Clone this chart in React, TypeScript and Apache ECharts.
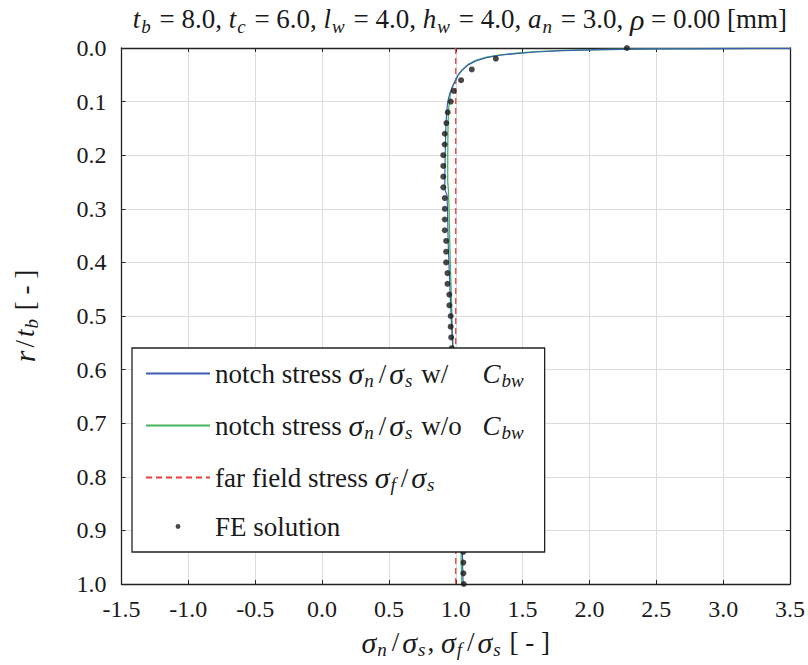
import React, { useEffect, useRef } from "react";
import * as echarts from "echarts";

// ---------- data ----------
const xTickMin = -1.5;
const xTickMax = 3.5;
const xTickStep = 0.5;
const yTickMin = 0.0;
const yTickMax = 1.0;
const yTickStep = 0.1;

// notch stress sigma_n/sigma_s with C_bw : [stress, r/t_b]
const notchStressWithCbw: [number, number][] = [
  [3.6, 0.0005], [3.0, 0.001], [2.5, 0.0018], [2.1, 0.003], [1.8, 0.005],
  [1.6, 0.0075], [1.45, 0.0105], [1.33, 0.0135], [1.23, 0.018], [1.15, 0.024],
  [1.09, 0.032], [1.05, 0.041], [1.02, 0.05], [1.0, 0.06], [0.975, 0.072],
  [0.955, 0.085], [0.94, 0.1], [0.932, 0.12], [0.927, 0.14], [0.924, 0.17],
  [0.921, 0.2], [0.919, 0.23], [0.918, 0.26], [0.92, 0.265], [0.935, 0.275],
  [0.938, 0.3], [0.943, 0.36], [0.95, 0.41], [0.96, 0.47], [0.971, 0.53],
  [0.978, 0.56], [0.99, 0.62], [1.005, 0.68], [1.02, 0.74], [1.03, 0.8],
  [1.04, 0.86], [1.047, 0.92], [1.05, 0.94], [1.052, 0.97], [1.055, 1.0],
];

// notch stress sigma_n/sigma_s without C_bw : [stress, r/t_b]
const notchStressWithoutCbw: [number, number][] = [
  [3.6, 0.0005], [3.0, 0.0009], [2.5, 0.0016], [2.1, 0.0028], [1.8, 0.0045],
  [1.6, 0.0068], [1.45, 0.0098], [1.33, 0.013], [1.23, 0.017], [1.15, 0.023],
  [1.09, 0.031], [1.05, 0.04], [1.02, 0.049], [1.0, 0.058], [0.98, 0.07],
  [0.962, 0.083], [0.952, 0.1], [0.945, 0.12], [0.942, 0.15], [0.94, 0.2],
  [0.94, 0.25], [0.945, 0.265], [0.95, 0.3], [0.955, 0.36], [0.96, 0.41],
  [0.968, 0.47], [0.975, 0.53], [0.98, 0.56], [0.99, 0.62], [1.0, 0.68],
  [1.01, 0.74], [1.02, 0.8], [1.03, 0.86], [1.037, 0.92], [1.04, 0.94],
  [1.042, 0.97], [1.045, 1.0],
];

// far field stress sigma_f/sigma_s
const farFieldStress: [number, number][] = [
  [1.0, 0.0], [1.0, 1.0],
];

// FE solution
const feRadius: number[] = [
  0.0, 0.02, 0.04, 0.06, 0.08, 0.1, 0.12, 0.14, 0.16, 0.18,
  0.2, 0.22, 0.24, 0.26, 0.28, 0.3, 0.32, 0.34, 0.36, 0.38,
  0.4, 0.42, 0.44, 0.46, 0.48, 0.5, 0.52, 0.54, 0.56, 0.58,
  0.6, 0.62, 0.64, 0.66, 0.68, 0.7, 0.72, 0.74, 0.76, 0.78,
  0.8, 0.82, 0.84, 0.86, 0.88, 0.9, 0.92, 0.94, 0.96, 0.98,
  1.0,
];
const feStress: number[] = [
  2.28, 1.3, 1.12, 1.04, 0.985, 0.963, 0.94, 0.93, 0.918, 0.917,
  0.907, 0.907, 0.907, 0.907, 0.918, 0.918, 0.918, 0.918, 0.928, 0.928,
  0.928, 0.938, 0.938, 0.952, 0.952, 0.962, 0.962, 0.966, 0.97, 0.974,
  0.979, 0.985, 0.99, 0.996, 1.0, 1.006, 1.012, 1.017, 1.022, 1.027,
  1.032, 1.036, 1.041, 1.045, 1.049, 1.052, 1.055, 1.057, 1.057, 1.057,
  1.06,
];

const seriesNames = [
  "notch stress σn/σs w/ Cbw",
  "notch stress σn/σs w/o Cbw",
  "far field stress σf/σs",
  "FE solution",
];

// ---------- styling ----------
const FONT = "Liberation Serif";
const TXT = "#1a1a1a";
const FS = 27;
const LH = 34;
const TICK_FS = 24;

const base = { fontFamily: FONT, color: TXT, fontWeight: "normal" as const };
const rich = {
  n: { ...base, fontSize: FS, lineHeight: LH },
  i: { ...base, fontSize: FS, fontStyle: "italic", lineHeight: LH },
  m: { ...base, fontSize: 30, fontStyle: "italic", lineHeight: LH },
  sl: { ...base, fontSize: FS, lineHeight: LH, padding: [0, 3, 0, 3] },
  s: { ...base, fontSize: 19, fontStyle: "italic", lineHeight: 22, padding: [14, 2, 0, 1] },
  g: { ...base, fontSize: FS, lineHeight: LH, width: 68, align: "left" },
};

const legendRich: Record<string, string> = {
  [seriesNames[0]]: "{n|notch stress }{m|σ}{s|n}{sl|/}{m|σ}{s|s}{g| w/}{i|C}{s|bw}",
  [seriesNames[1]]: "{n|notch stress }{m|σ}{s|n}{sl|/}{m|σ}{s|s}{g| w/o}{i|C}{s|bw}",
  [seriesNames[2]]: "{n|far field stress }{m|σ}{s|f}{sl|/}{m|σ}{s|s}",
  [seriesNames[3]]: "{n|FE solution}",
};

const titleText =
  "{i|t}{s|b}{n| = 8.0, }{i|t}{s|c}{n| = 6.0, }{i|l}{s|w}{n| = 4.0, }{i|h}{s|w}{n| = 4.0, }{i|a}{s|n}{n| = 3.0, }{m|ρ}{n| = 0.00 [mm]}";
const xName = "{m|σ}{s|n}{sl|/}{m|σ}{s|s}{n|, }{m|σ}{s|f}{sl|/}{m|σ}{s|s}{n| [ - ]}";
const yName = "{m|r}{sl|/}{i|t}{s|b}{n| [ - ]}";

const BLUE = "#3a5fb0";
const GREEN = "#46b45a";
const RED = "#ee3b3b";

export default function App() {
  const ref = useRef<HTMLDivElement>(null);

  useEffect(() => {
    if (!ref.current) return;
    const chart = echarts.init(ref.current, undefined, { renderer: "svg" });

    const axisLine = { show: true, onZero: false, lineStyle: { color: "#222", width: 1.3 } };
    const axisTick = { show: true, inside: true, length: 4, lineStyle: { color: "#222", width: 1 } };
    const labelStyle = {
      fontFamily: FONT,
      fontSize: TICK_FS,
      color: TXT,
      formatter: (v: number) => v.toFixed(1),
      showMinLabel: true,
      showMaxLabel: true,
    };
    const split = { show: true, lineStyle: { color: "#dcdcdc", width: 1 } };

    const option: any = {
      animation: false,
      backgroundColor: "#ffffff",
      textStyle: { fontFamily: FONT },
      title: {
        text: titleText,
        right: 16,
        top: -3,
        textStyle: { ...base, fontSize: FS, rich },
      },
      grid: { left: 94, right: 16, top: 48, bottom: 81 },
      xAxis: [
        {
          type: "value",
          position: "bottom",
          min: xTickMin,
          max: xTickMax,
          interval: xTickStep,
          axisLine,
          axisTick,
          axisLabel: { ...labelStyle, margin: 13 },
          splitLine: split,
          name: xName,
          nameLocation: "middle",
          nameGap: 41,
          nameTextStyle: { ...base, fontSize: FS, rich },
        },
        {
          type: "value",
          position: "top",
          min: xTickMin,
          max: xTickMax,
          interval: xTickStep,
          axisLine,
          axisTick,
          axisLabel: { show: false },
          splitLine: { show: false },
        },
      ],
      yAxis: [
        {
          type: "value",
          position: "left",
          inverse: true,
          min: yTickMin,
          max: yTickMax,
          interval: yTickStep,
          axisLine,
          axisTick,
          axisLabel: { ...labelStyle, margin: 15 },
          splitLine: split,
          name: yName,
          nameLocation: "middle",
          nameGap: 80,
          nameRotate: 90,
          nameTextStyle: { ...base, fontSize: FS, rich },
        },
        {
          type: "value",
          position: "right",
          inverse: true,
          min: yTickMin,
          max: yTickMax,
          interval: yTickStep,
          axisLine,
          axisTick,
          axisLabel: { show: false },
          splitLine: { show: false },
        },
      ],
      legend: {
        orient: "vertical",
        left: 132,
        top: 348,
        z: 20,
        itemWidth: 64,
        itemHeight: 14,
        itemGap: 19,
        padding: [9, 19, 12, 13],
        backgroundColor: "#ffffff",
        borderColor: "#222",
        borderWidth: 1.3,
        borderRadius: 0,
        selectedMode: false,
        textStyle: { ...base, fontSize: FS, rich },
        formatter: (name: string) => legendRich[name] ?? name,
        data: [
          { name: seriesNames[0], itemStyle: { opacity: 0 } },
          { name: seriesNames[1], itemStyle: { opacity: 0 } },
          { name: seriesNames[2], itemStyle: { opacity: 0 } },
          {
            name: seriesNames[3],
            icon: "path://M0,0M20,20M10,6.5A3.5,3.5,0,1,1,10,13.5A3.5,3.5,0,1,1,10,6.5Z",
          },
        ],
      },
      series: [
        {
          name: seriesNames[2],
          type: "line",
          data: farFieldStress,
          symbol: "none",
          showSymbol: false,
          lineStyle: { color: RED, width: 1.3, type: [6, 4] },
          itemStyle: { color: RED },
          z: 2,
        },
        {
          name: seriesNames[1],
          type: "line",
          data: notchStressWithoutCbw,
          symbol: "none",
          showSymbol: false,
          lineStyle: { color: GREEN, width: 1.3 },
          itemStyle: { color: GREEN },
          z: 3,
        },
        {
          name: seriesNames[0],
          type: "line",
          data: notchStressWithCbw,
          symbol: "none",
          showSymbol: false,
          lineStyle: { color: BLUE, width: 1.2 },
          itemStyle: { color: BLUE },
          z: 4,
        },
        {
          name: seriesNames[3],
          type: "scatter",
          data: feRadius.map((r, k) => [feStress[k], r]),
          symbol: "circle",
          symbolSize: 6,
          itemStyle: { color: "#1a1a1a" },
          z: 5,
        },
      ],
    };

    chart.setOption(option);
    return () => chart.dispose();
  }, []);

  return (
    <div
      ref={ref}
      style={{ position: "fixed", left: 0, top: 0, width: 808, height: 665, background: "#fff" }}
    />
  );
}
